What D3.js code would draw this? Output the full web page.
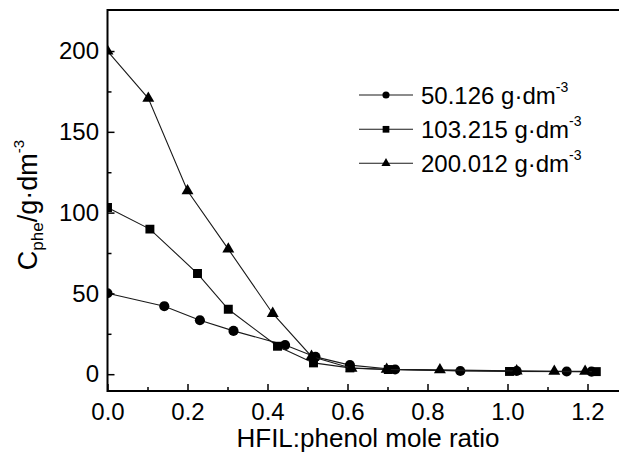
<!DOCTYPE html>
<html><head><meta charset="utf-8">
<script src="https://cdn.jsdelivr.net/npm/d3@7"></script>
<style>
html,body{margin:0;padding:0;background:#fff;}
text{font-family:"Liberation Sans",Arial,sans-serif;fill:#000;}
</style></head>
<body><svg id="c" width="619" height="460"></svg>
<script>
// ---- data ----
const seriesNames = ["50.126", "103.215", "200.012"];
const ratioCircle = [0, 0.142, 0.231, 0.315, 0.444, 0.52, 0.606, 0.719, 0.882, 1.023, 1.148, 1.21];
const concCircle  = [50.1, 42.1, 33.4, 26.8, 18.0, 10.7, 5.6, 2.9, 2.0, 2.0, 1.7, 1.6];
const ratioSquare = [0, 0.106, 0.225, 0.302, 0.425, 0.515, 0.606, 0.702, 1.005, 1.222];
const concSquare  = [103.2, 89.8, 62.3, 40.2, 17.3, 7.0, 3.9, 2.9, 1.7, 1.6];
const ratioTriangle = [0, 0.102, 0.2, 0.302, 0.413, 0.51, 0.61, 0.698, 0.831, 1.023, 1.117, 1.194];
const concTriangle  = [200.0, 170.7, 113.5, 77.4, 37.6, 11.0, 3.7, 3.0, 2.7, 2.0, 1.8, 1.8];
const xMajorTicks = [0, 0.2, 0.4, 0.6, 0.8, 1.0, 1.2];
const xMinorTicks = [0.1, 0.3, 0.5, 0.7, 0.9, 1.1];
const yMajorTicks = [0, 50, 100, 150, 200];
const yMinorTicks = [25, 75, 125, 175];

const series = [
  {name: seriesNames[0], xs: ratioCircle, ys: concCircle, sym: d3.symbolCircle, size: 80, lsize: 40},
  {name: seriesNames[1], xs: ratioSquare, ys: concSquare, sym: d3.symbolSquare, size: 80, lsize: 45},
  {name: seriesNames[2], xs: ratioTriangle, ys: concTriangle, sym: d3.symbolTriangle, size: 62, lsize: 36}
];

const svg = d3.select("#c");
const L = 107.5, T = 10, B = 391, R = 627.5;
const x = d3.scaleLinear().domain([0, 1.3]).range([L, R]);
const y = d3.scaleLinear().domain([-10.4, 225.4]).range([B, T]);

svg.append("defs").append("clipPath").attr("id","clip")
  .append("rect").attr("x", L).attr("y", T).attr("width", R - L).attr("height", B - T);

// data
const plot = svg.append("g").attr("clip-path","url(#clip)");
const line = d3.line().x(d => x(d[0])).y(d => y(d[1]));
series.forEach(s => {
  const pts = s.xs.map((v,i) => [v, s.ys[i]]);
  plot.append("path").attr("d", line(pts)).attr("fill","none")
    .attr("stroke","#1a1a1a").attr("stroke-width",1.1);
  plot.selectAll(null).data(pts).enter().append("path")
    .attr("transform", d => `translate(${x(d[0])},${y(d[1])})`)
    .attr("d", d3.symbol().type(s.sym).size(s.size)).attr("fill","#000");
});

// axes
const fs = 24;
const gx = svg.append("g").attr("transform",`translate(0,${B})`)
  .call(d3.axisBottom(x).tickValues(xMajorTicks).tickSize(-7).tickPadding(12).tickFormat(d3.format(".1f")));
const gxm = svg.append("g").attr("transform",`translate(0,${B})`)
  .call(d3.axisBottom(x).tickValues(xMinorTicks).tickSize(-4).tickFormat(""));
const gy = svg.append("g").attr("transform",`translate(${L},0)`)
  .call(d3.axisLeft(y).tickValues(yMajorTicks).tickSize(-7).tickPadding(8.5).tickFormat(d3.format("d")));
const gym = svg.append("g").attr("transform",`translate(${L},0)`)
  .call(d3.axisLeft(y).tickValues(yMinorTicks).tickSize(-4).tickFormat(""));
[gx,gxm,gy,gym].forEach(g => {
  g.select(".domain").remove();
  g.selectAll("line").attr("stroke","#000").attr("stroke-width",1.5);
  g.selectAll("text").attr("font-size", fs).attr("font-family","Liberation Sans, Arial, sans-serif").attr("fill","#000");
});

// frame lines
svg.append("line").attr("x1",L).attr("x2",R).attr("y1",B).attr("y2",B).attr("stroke","#000").attr("stroke-width",2);
svg.append("line").attr("x1",L).attr("x2",R).attr("y1",T).attr("y2",T).attr("stroke","#000").attr("stroke-width",2);
svg.append("line").attr("x1",L).attr("x2",L).attr("y1",T-1).attr("y2",B+1).attr("stroke","#000").attr("stroke-width",2);
svg.append("line").attr("x1",R).attr("x2",R).attr("y1",T).attr("y2",B).attr("stroke","#000").attr("stroke-width",2);

// x title
svg.append("text").attr("x", 368).attr("y", 447).attr("text-anchor","middle")
  .attr("font-size", 26).text("HFIL:phenol mole ratio");

// y title
const yt = svg.append("text").attr("transform","translate(37,205) rotate(-90)")
  .attr("text-anchor","middle").attr("font-size", 27);
yt.append("tspan").text("C");
yt.append("tspan").attr("font-size",17).attr("dy",6).text("phe");
yt.append("tspan").attr("dy",-6).text("/g·dm");
yt.append("tspan").attr("font-size",15).attr("dy",-13).text("-3");

// legend
const legRows = [95, 129.3, 163.3];
series.forEach((s,i) => {
  const g = svg.append("g").attr("transform",`translate(0,${legRows[i]})`);
  g.append("line").attr("x1",359).attr("x2",413).attr("y1",0).attr("y2",0).attr("stroke","#1a1a1a").attr("stroke-width",1.1);
  g.append("path").attr("transform","translate(386,0)").attr("d", d3.symbol().type(s.sym).size(s.lsize)).attr("fill","#000");
  const t = g.append("text").attr("x",421).attr("y",8.5).attr("font-size",fs);
  t.append("tspan").text(s.name + " g·dm");
  t.append("tspan").attr("font-size",14).attr("dy",-12).text("-3");
});
</script></body></html>
